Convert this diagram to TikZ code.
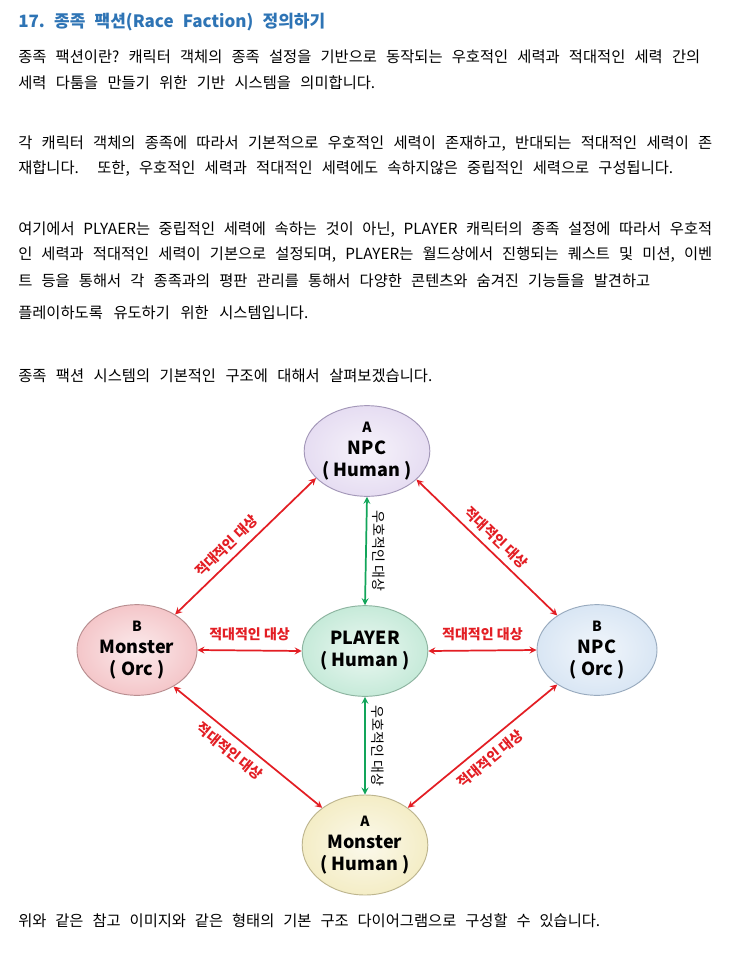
\documentclass[tikz,border=0pt]{standalone}
\usepackage{fontspec}
\setmainfont{Noto Sans CJK KR}
\newfontfamily\krfont{Noto Sans CJK KR}
\usetikzlibrary{arrows, shapes.geometric, positioning}
\tikzset{>=stealth}
\frenchspacing
\definecolor{titleblue}{HTML}{2E74B5}
\definecolor{hostred}{HTML}{E31E24}
\definecolor{friendgreen}{HTML}{12A55A}
\definecolor{anpcfill}{HTML}{E6DDF2}
\definecolor{anpcline}{HTML}{A397B8}
\definecolor{bmonfill}{HTML}{F4C6C9}
\definecolor{bmonline}{HTML}{B88E90}
\definecolor{playerfill}{HTML}{C6EAD9}
\definecolor{playerline}{HTML}{8DB4A0}
\definecolor{bnpcfill}{HTML}{D9E6F4}
\definecolor{bnpcline}{HTML}{98AABE}
\definecolor{amonfill}{HTML}{F4EDC6}
\definecolor{amonline}{HTML}{BDB58E}
\newcommand{\racetag}[1]{{\fontsize{10.5}{16.5}\selectfont #1}}

\begin{document}
\begin{tikzpicture}[x=0.75pt, y=-0.75pt, >=stealth,
    para/.style={anchor=west, inner sep=0pt, font=\krfont\fontsize{11.5}{13}\selectfont},
    race/.style={ellipse, minimum width=90pt, minimum height=68pt, line width=0.7pt, align=center, inner sep=0pt, font=\krfont\bfseries\fontsize{13.5}{16.5}\selectfont},
    tint/.style={inner color=#1!35!white, outer color=#1},
    hostile/.style={<->, line width=1.3pt, draw=hostred},
    friend/.style={<->, line width=1.3pt, draw=friendgreen},
    hlabel/.style={text=hostred, inner sep=1.5pt, font=\krfont\bfseries\fontsize{10.5}{12}\selectfont},
    flabel/.style={inner sep=4pt, font=\krfont\fontsize{10.5}{12}\selectfont}]
    \fill[white] (0,0) rectangle (733,959);
    \useasboundingbox (0,0) rectangle (733,959);

    \node[para, text=titleblue, font=\krfont\bfseries\fontsize{12.75}{15}\selectfont] (title) at (18,22) {\makebox[230.25pt][s]{17. 종족 팩션(Race Faction) 정의하기}};
    \node[para] (line1) at (18,57) {\makebox[511.5pt][s]{종족 팩션이란? 캐릭터 객체의 종족 설정을 기반으로 동작되는 우호적인 세력과 적대적인 세력 간의}};
    \node[para] (line2) at (18,83) {\makebox[267.75pt][s]{세력 다툼을 만들기 위한 기반 시스템을 의미합니다.}};
    \node[para] (line3) at (18,144) {\makebox[520.5pt][s]{각 캐릭터 객체의 종족에 따라서 기본적으로 우호적인 세력이 존재하고, 반대되는 적대적인 세력이 존}};
    \node[para] (line4) at (18,169) {\makebox[491.25pt][s]{재합니다.\ \ 또한, 우호적인 세력과 적대적인 세력에도 속하지않은 중립적인 세력으로 구성됩니다.}};
    \node[para] (line5) at (18,230) {\makebox[520.5pt][s]{여기에서 PLYAER는 중립적인 세력에 속하는 것이 아닌, PLAYER 캐릭터의 종족 설정에 따라서 우호적}};
    \node[para] (line6) at (18,255) {\makebox[520.5pt][s]{인 세력과 적대적인 세력이 기본으로 설정되며, PLAYER는 월드상에서 진행되는 퀘스트 및 미션, 이벤}};
    \node[para] (line7) at (18,281) {\makebox[474pt][s]{트 등을 통해서 각 종족과의 평판 관리를 통해서 다양한 콘텐츠와 숨겨진 기능들을 발견하고}};
    \node[para] (line8) at (18,313) {\makebox[217.5pt][s]{플레이하도록 유도하기 위한 시스템입니다.}};
    \node[para] (line9) at (18,376) {\makebox[310.5pt][s]{종족 팩션 시스템의 기본적인 구조에 대해서 살펴보겠습니다.}};
    \node[para] (line10) at (18,921) {\makebox[436.5pt][s]{위와 같은 참고 이미지와 같은 형태의 기본 구조 다이어그램으로 구성할 수 있습니다.}};

    \node[race, tint=anpcfill, draw=anpcline] (anpc) at (367,451) {\racetag{A}\\NPC\\( Human )};
    \node[race, tint=bmonfill, draw=bmonline] (bmon) at (137,650) {\racetag{B}\\Monster\\( Orc )};
    \node[race, tint=playerfill, draw=playerline] (player) at (365,651) {PLAYER\\( Human )};
    \node[race, tint=bnpcfill, draw=bnpcline] (bnpc) at (597,650) {\racetag{B}\\NPC\\( Orc )};
    \node[race, tint=amonfill, draw=amonline, minimum height=75pt] (amon) at (365,845) {\racetag{A}\\Monster\\( Human )};

    \draw[hostile] (bmon.43) -- (anpc.208) node[hlabel, pos=0.43, sloped, above=3pt] {적대적인 대상};
    \draw[hostile] (anpc.330) -- (bnpc.139) node[hlabel, pos=0.5, sloped, above=3pt] {적대적인 대상};
    \draw[hostile] (bmon.east) -- (player.west) node[hlabel, midway, above=5pt] {적대적인 대상};
    \draw[hostile] (player.east) -- (bnpc.west) node[hlabel, midway, above=5pt] {적대적인 대상};
    \draw[hostile] (bmon.315) -- (amon.139) node[hlabel, pos=0.44, sloped, below=4pt] {적대적인 대상};
    \draw[hostile] (amon.41) -- (bnpc.221) node[hlabel, pos=0.49, sloped, below=4pt] {적대적인 대상};
    \draw[friend] (anpc.south) -- (player.north) node[flabel, midway, rotate=-90, anchor=south] {우호적인 대상};
    \draw[friend] (player.south) -- (amon.north) node[flabel, midway, rotate=-90, anchor=south] {우호적인 대상};
\end{tikzpicture}
\end{document}
